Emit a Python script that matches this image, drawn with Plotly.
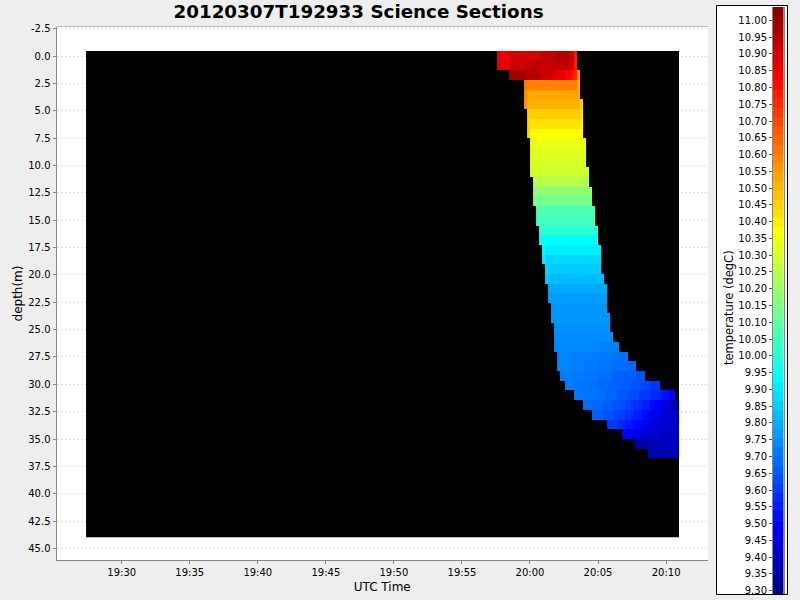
import numpy as np
import pandas as pd
import plotly.graph_objects as go

# ---- data -----------------------------------------------------------------
BASE_TIME = pd.Timestamp("2012-03-07 19:00:00")

# depth bin edges (m), top of first row to bottom of last
depth_edges = [-0.46, 0.43, 1.31, 2.20, 3.08, 3.97, 4.86, 5.74, 6.63, 7.51, 8.40,
               9.29, 10.17, 11.06, 11.94, 12.83, 13.72, 14.60, 15.49, 16.37, 17.26,
               18.15, 19.03, 19.92, 20.80, 21.69, 22.58, 23.46, 24.35, 25.23, 26.12,
               27.01, 27.89, 28.78, 29.66, 30.55, 31.44, 32.32, 33.21, 34.09, 34.98,
               35.87, 36.75]

# for each depth bin: minute after 19:00 where the section run ends
row_end = [63.45, 63.45, 63.67, 63.67, 63.67, 63.89, 63.89, 63.89, 63.89, 64.11, 64.11,
           64.11, 64.34, 64.34, 64.56, 64.56, 64.78, 64.78, 65.00, 65.00, 65.22,
           65.22, 65.22, 65.44, 65.66, 65.66, 65.66, 65.88, 65.88, 66.10, 66.54,
           67.20, 67.79, 68.45, 69.55, 70.65, 70.95, 70.95, 70.95, 70.95, 70.95, 70.95]

# for each depth bin: minutes after 19:00 where each reading starts
row_times = [
    [57.58, 58.46, 60.73, 61.84, 62.94, 63.23],
    [57.58, 58.46, 59.63, 62.94, 63.23],
    [58.46, 59.63, 60.73, 61.84, 62.57, 63.01, 63.23, 63.45],
    [59.56, 63.45],
    [59.56, 59.78],
    [59.56, 59.78, 63.67],
    [59.78, 63.67],
    [59.78, 60.00, 63.67],
    [59.78, 60.00],
    [60.00, 63.89],
    [60.00],
    [60.00, 60.22],
    [60.00, 60.22],
    [60.22, 64.11],
    [60.22, 64.34],
    [60.22],
    [60.44],
    [60.44],
    [60.66],
    [60.66],
    [60.88, 61.10],
    [60.88, 61.10],
    [61.10, 61.32],
    [61.10, 61.32],
    [61.32],
    [61.32],
    [61.54],
    [61.54],
    [61.76],
    [61.76],
    [61.76, 65.22],
    [61.98, 63.00, 64.00, 65.00, 66.00, 66.60],
    [61.98, 63.00, 64.00, 65.00, 66.00, 67.00],
    [62.20, 63.00, 64.00, 65.00, 66.00, 67.00, 67.80],
    [62.57, 63.40, 64.20, 65.00, 65.80, 66.60, 67.40, 68.10, 68.80],
    [63.23, 64.00, 64.80, 65.60, 66.40, 67.20, 68.00, 68.80, 69.60, 70.20],
    [63.89, 64.60, 65.40, 66.20, 67.00, 67.60, 68.20, 68.80, 69.40, 70.00, 70.40, 70.70],
    [64.56, 65.40, 66.20, 67.00, 67.60, 68.20, 68.80, 69.40, 70.00],
    [65.66, 66.40, 67.00, 67.60, 68.20, 68.80, 69.40, 70.00],
    [66.76, 67.40, 68.00, 68.80, 69.60],
    [67.64, 68.00, 68.40, 69.00, 69.60],
    [68.67],
]

# temperature (degC) of those readings
row_temps = [
    [10.87, 10.90, 10.93, 10.95, 10.92, 10.79],
    [10.88, 10.91, 10.93, 10.90, 10.78],
    [10.98, 10.95, 10.91, 10.87, 10.83, 10.80, 10.76, 10.57],
    [10.60, 10.53],
    [10.58, 10.53],
    [10.57, 10.51, 10.45],
    [10.46, 10.43],
    [10.46, 10.42, 10.40],
    [10.45, 10.37],
    [10.34, 10.33],
    [10.32],
    [10.32, 10.31],
    [10.31, 10.29],
    [10.24, 10.22],
    [10.18, 10.16],
    [10.13],
    [10.07],
    [10.05],
    [10.01],
    [9.94],
    [9.94, 9.91],
    [9.91, 9.87],
    [9.88, 9.85],
    [9.85, 9.82],
    [9.79],
    [9.77],
    [9.76],
    [9.76],
    [9.75],
    [9.74],
    [9.73, 9.72],
    [9.73, 9.72, 9.715, 9.71, 9.70, 9.69],
    [9.73, 9.72, 9.71, 9.70, 9.69, 9.68],
    [9.72, 9.71, 9.70, 9.69, 9.67, 9.66, 9.64],
    [9.71, 9.70, 9.69, 9.68, 9.67, 9.66, 9.64, 9.62, 9.59],
    [9.71, 9.70, 9.69, 9.67, 9.65, 9.63, 9.60, 9.57, 9.53, 9.50],
    [9.69, 9.68, 9.66, 9.64, 9.61, 9.58, 9.55, 9.51, 9.47, 9.42, 9.37, 9.33],
    [9.66, 9.64, 9.61, 9.58, 9.55, 9.51, 9.47, 9.44, 9.42],
    [9.60, 9.57, 9.54, 9.51, 9.48, 9.45, 9.43, 9.41],
    [9.49, 9.46, 9.44, 9.42, 9.40],
    [9.32, 9.34, 9.36, 9.38, 9.39],
    [9.38],
]

# missing-data block covering the whole section window
window_minutes = [27.38, 70.95]
window_depth = [-0.46, 43.97]

depth_ticks = [-2.5, 0.0, 2.5, 5.0, 7.5, 10.0, 12.5, 15.0, 17.5, 20.0, 22.5, 25.0,
               27.5, 30.0, 32.5, 35.0, 37.5, 40.0, 42.5, 45.0]
depth_labels = ["-2.5", "0.0", "2.5", "5.0", "7.5", "10.0", "12.5", "15.0", "17.5", "20.0",
                "22.5", "25.0", "27.5", "30.0", "32.5", "35.0", "37.5", "40.0", "42.5", "45.0"]
temp_ticks = [9.30, 9.35, 9.40, 9.45, 9.50, 9.55, 9.60, 9.65, 9.70, 9.75, 9.80, 9.85,
              9.90, 9.95, 10.00, 10.05, 10.10, 10.15, 10.20, 10.25, 10.30, 10.35, 10.40,
              10.45, 10.50, 10.55, 10.60, 10.65, 10.70, 10.75, 10.80, 10.85, 10.90,
              10.95, 11.00]
temp_labels = [f"{t:.2f}" for t in temp_ticks]

TEMP_MIN, TEMP_MAX = 9.29, 11.04
jet = [[0.0, "#000080"], [0.12, "#0000ff"], [0.37, "#00ffff"], [0.495, "#80ff80"],
       [0.617, "#ffff00"], [0.88, "#ff0000"], [1.0, "#800000"]]


def clock(minute):
    return BASE_TIME + pd.to_timedelta(minute, unit="m")


# ---- build the grid -------------------------------------------------------
all_edges = sorted({m for times in row_times for m in times} | set(row_end))
z = np.full((len(row_times), len(all_edges) - 1), np.nan)
for r, (times, temps, end) in enumerate(zip(row_times, row_temps, row_end)):
    stops = times[1:] + [end]
    for t0, t1, temp in zip(times, stops, temps):
        for c in range(len(all_edges) - 1):
            if all_edges[c] >= t0 and all_edges[c + 1] <= t1:
                z[r, c] = temp

bar_edges = np.linspace(TEMP_MIN, TEMP_MAX, 65)
bar_levels = 0.5 * (bar_edges[:-1] + bar_edges[1:])

fig = go.Figure()
fig.add_trace(go.Heatmap(
    x=[clock(m) for m in all_edges], y=depth_edges, z=z,
    colorscale=jet, zmin=TEMP_MIN, zmax=TEMP_MAX, showscale=False,
    hoverongaps=False, xaxis="x", yaxis="y",
))
fig.add_trace(go.Heatmap(
    x=[0, 1], y=bar_edges, z=[[v] for v in bar_levels],
    colorscale=jet, zmin=TEMP_MIN, zmax=TEMP_MAX, showscale=False,
    xaxis="x2", yaxis="y2",
))

W, H = 800, 600
font = "DejaVu Sans"
fig.update_layout(
    width=W, height=H, margin=dict(l=0, r=0, t=0, b=0, autoexpand=False),
    paper_bgcolor="#eeeeee", plot_bgcolor="#ffffff",
    font=dict(family=font, size=10, color="#000000"),
    showlegend=False,
    title=dict(text="<b>20120307T192933 Science Sections</b>", x=358.5 / W, xanchor="center",
               y=1 - 11.5 / H, yanchor="middle", font=dict(family=font, size=18.3, color="#000000")),
    xaxis=dict(
        domain=[56.5 / W, 708 / W], anchor="y", type="date",
        range=[clock(25.21), clock(73.08)],
        tick0=clock(30), dtick=300000, tickformat="%H:%M",
        ticks="outside", ticklen=3, tickcolor="#888888",
        showline=True, linecolor="#888888", linewidth=1, showgrid=False, zeroline=False,
        title=dict(text="UTC Time", font=dict(size=12), standoff=5),
    ),
    yaxis=dict(
        domain=[1 - 560 / H, 1 - 27 / H], anchor="x",
        range=[46.05, -2.65], tickmode="array", tickvals=depth_ticks, ticktext=depth_labels,
        ticks="outside", ticklen=3, tickcolor="#888888",
        showline=True, linecolor="#888888", linewidth=1, zeroline=False,
        showgrid=True, gridcolor="#dddddd", griddash="2px,2px", gridwidth=1,
        title=dict(text="depth(m)", font=dict(size=12), standoff=3),
    ),
    xaxis2=dict(domain=[773 / W, 783.5 / W], anchor="y2", range=[0, 1], visible=False),
    yaxis2=dict(
        domain=[1 - 594 / H, 1 - 7 / H], anchor="x2", side="left",
        range=[TEMP_MIN, TEMP_MAX], tickmode="array", tickvals=temp_ticks, ticktext=temp_labels,
        ticks="outside", ticklen=3, tickcolor="#555555",
        showline=True, linecolor="#888888", linewidth=1, showgrid=False, zeroline=False,
        mirror=True,
    ),
    annotations=[
        dict(text="temperature (degC)", xref="paper", yref="paper", showarrow=False,
             x=729 / W, y=1 - 308 / H, textangle=-90, font=dict(size=11.5),
             xanchor="center", yanchor="middle"),
    ],
    shapes=[
        dict(type="rect", xref="x", yref="y", layer="between",
             x0=clock(window_minutes[0]), x1=clock(window_minutes[1]),
             y0=window_depth[0], y1=window_depth[1],
             fillcolor="#000000", line=dict(width=0)),
        dict(type="rect", xref="paper", yref="paper", layer="below",
             x0=716.5 / W, x1=787.5 / W, y0=1 - 594.5 / H, y1=1 - 5.5 / H,
             fillcolor="#ffffff", line=dict(color="#000000", width=1)),
        dict(type="line", xref="paper", yref="paper", layer="above",
             x0=56.5 / W, x1=708 / W, y0=1 - 26.5 / H, y1=1 - 26.5 / H,
             line=dict(color="#bbbbbb", width=1)),
    ],
)

fig.write_html("out.html", config=dict(displayModeBar=False),
               post_script="document.body.style.margin='0';")
